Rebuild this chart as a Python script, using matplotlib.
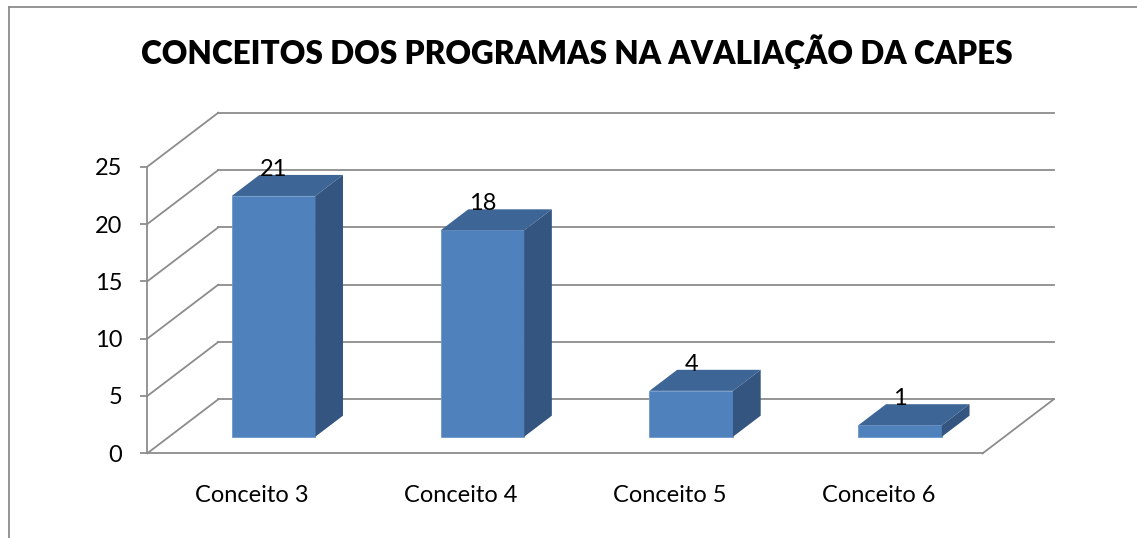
import numpy as np
import matplotlib
matplotlib.use("Agg")
import matplotlib.pyplot as plt
from matplotlib.patches import Polygon
from matplotlib.lines import Line2D

# dados do grafico
categorias = ["Conceito 3", "Conceito 4", "Conceito 5", "Conceito 6"]
programas = [21, 18, 4, 1]
y_ticks = [0, 5, 10, 15, 20, 25]
titulo = "CONCEITOS DOS PROGRAMAS NA AVALIAÇÃO DA CAPES"

plt.rcParams['font.family'] = ['Lato', 'DejaVu Sans']

W, H = 1137, 538
fig = plt.figure(figsize=(W / 100, H / 100), dpi=100)
ax = fig.add_axes([147.3 / W, (H - 453.3) / H, 835.4 / W, 286.6 / H])
ax.set_xlim(-0.5, 3.5)
ax.set_ylim(0, 25)

cinza = '#8c8c8c'
# profundidade da caixa (projecao obliqua) em unidades dos dados
prof_x, prof_y = 0.34, 4.71

# paredes: lateral esquerda e fundo
for v in y_ticks:
    ax.plot([-0.5, -0.5 + prof_x], [v, v + prof_y], color=cinza, lw=1.3, clip_on=False, zorder=1)
    ax.plot([-0.5 + prof_x, 3.5 + prof_x], [v + prof_y, v + prof_y], color=cinza, lw=1.3,
            clip_on=False, zorder=1)
# chao, lado direito
ax.plot([3.5, 3.5 + prof_x], [0, prof_y], color=cinza, lw=1.3, clip_on=False, zorder=1)

# barras 3d
d0, d1 = 0.307, 0.697
largura = 0.40
xs = np.arange(len(categorias)) + d0 * prof_x
base = d0 * prof_y
dx, dy = (d1 - d0) * prof_x, (d1 - d0) * prof_y
ax.bar(xs, programas, width=largura, bottom=base, color='#4F81BD', edgecolor='#6f97c9',
       linewidth=0.6, zorder=3)
for x, v in zip(xs, programas):
    xl, xr, yt = x - largura / 2, x + largura / 2, base + v
    topo = Polygon([(xl, yt), (xr, yt), (xr + dx, yt + dy), (xl + dx, yt + dy)],
                   closed=True, facecolor='#3d6697', edgecolor='none', clip_on=False, zorder=3)
    lado = Polygon([(xr, base), (xr, yt), (xr + dx, yt + dy), (xr + dx, base + dy)],
                   closed=True, facecolor='#33557f', edgecolor='none', clip_on=False, zorder=3)
    ax.add_patch(topo)
    ax.add_patch(lado)
    ax.annotate(str(v), (x, yt), xytext=(0, 26.7), textcoords='offset pixels',
                ha='center', va='center', fontsize=17, color='black', zorder=5)

# eixos
for s in ['top', 'right']:
    ax.spines[s].set_visible(False)
ax.spines['left'].set_color(cinza)
ax.spines['bottom'].set_color(cinza)
ax.spines['left'].set_linewidth(1.3)
ax.spines['bottom'].set_linewidth(1.3)
ax.set_yticks(y_ticks)
ax.set_xticks(range(len(categorias)))
ax.set_xticklabels(categorias)
ax.tick_params(axis='y', length=5, width=1.3, color=cinza, pad=13, labelsize=17)
ax.tick_params(axis='x', length=0, pad=23, labelsize=17)
ax.set_facecolor('none')

fig.text(577 / W, 1 - 51.4 / H, titulo, ha='center', va='center', fontsize=22.7,
         fontweight='heavy')

# moldura
fig.add_artist(Line2D([9 / W, 9 / W], [0, 1 - 7 / H], color=cinza, lw=1.3))
fig.add_artist(Line2D([9 / W, 1], [1 - 7 / H, 1 - 7 / H], color=cinza, lw=1.3))

fig.savefig('out.png', dpi=100)
